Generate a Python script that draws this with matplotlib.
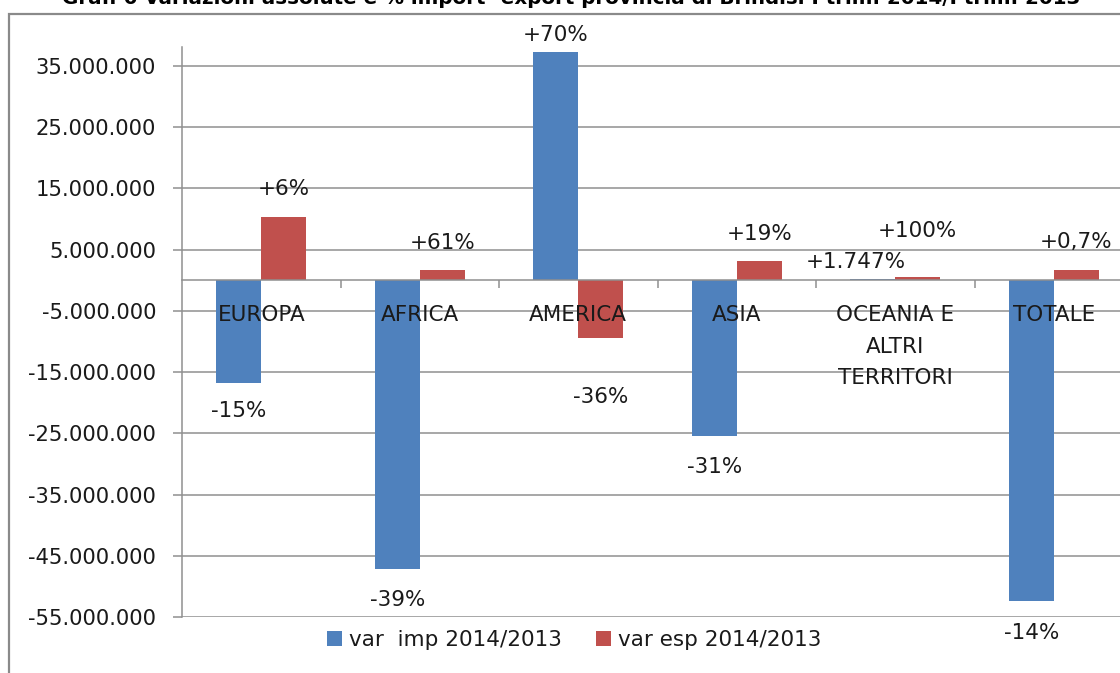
import matplotlib
matplotlib.use("Agg")
import matplotlib.pyplot as plt
from matplotlib.ticker import FuncFormatter, FixedLocator
from matplotlib.patches import Rectangle

# ---- data ----
categories = ["EUROPA", "AFRICA", "AMERICA", "ASIA", "OCEANIA E\nALTRI\nTERRITORI", "TOTALE"]
var_imp = [-16.7e6, -47.1e6, 37.3e6, -25.5e6, 0.25e6, -52.4e6]
var_esp = [10.3e6, 1.6e6, -9.4e6, 3.2e6, 0.6e6, 1.65e6]
imp_labels = ["-15%", "-39%", "+70%", "-31%", "+1.747%", "-14%"]
esp_labels = ["+6%", "+61%", "-36%", "+19%", "+100%", "+0,7%"]
series_names = ["var  imp 2014/2013", "var esp 2014/2013"]
yticks = [-55e6, -45e6, -35e6, -25e6, -15e6, -5e6, 5e6, 15e6, 25e6, 35e6]
title = "Graf. 6 Variazioni assolute e % import- export provincia di Brindisi I trim. 2014/I trim. 2013"

# label offsets (pixels): (dx, dy) relative to bar end
imp_off = [(0, -28), (0, -31), (0, 17), (0, -31), (-17, 17), (0, -32)]
esp_off = [(0, 28), (0, 27), (0, -59), (0, 27), (0, 46), (0, 28)]

W, H = 1120, 673
fig = plt.figure(figsize=(W / 100, H / 100), dpi=100)
plt.rcParams['font.family'] = ['DejaVu Sans']

BLUE = "#4F81BD"
RED = "#C0504D"
GRID = "#8f8f8f"
TXT = "#1a1a1a"
FS = 15.5

left, right = 182 / W, 1133 / W
bottom, top = 1 - 617 / H, 1 - 47 / H
ax = fig.add_axes([left, bottom, right - left, top - bottom])

n = len(categories)
x = list(range(n))
bw = 45 / 158.5
b1 = ax.bar([i - bw / 2 for i in x], var_imp, width=bw, color=BLUE, label=series_names[0], zorder=3)
b2 = ax.bar([i + bw / 2 for i in x], var_esp, width=bw, color=RED, label=series_names[1], zorder=3)

ax.set_xlim(-0.5, n - 0.5)
ax.set_ylim(-55e6, 38.1e6)

# gridlines
ax.yaxis.set_major_locator(FixedLocator(yticks))
ax.yaxis.set_major_formatter(FuncFormatter(lambda v, p: f"{int(round(v)):,}".replace(",", ".")))
ax.grid(axis='y', color=GRID, linewidth=1.1, zorder=0)
ax.set_axisbelow(True)

for s in ['top', 'right']:
    ax.spines[s].set_visible(False)
ax.spines['left'].set_color(GRID)
ax.spines['left'].set_linewidth(1.1)
ax.spines['bottom'].set_position(('data', 0))
ax.spines['bottom'].set_color(GRID)
ax.spines['bottom'].set_linewidth(1.1)
ax.spines['bottom'].set_zorder(4)

ax.tick_params(axis='y', length=6.5, width=1.1, color=GRID, pad=12, labelsize=15.2, labelcolor=TXT)
ax.set_xticks(x)
ax.set_xticklabels([])
ax.tick_params(axis='x', which='major', length=0)
ax.set_xticks([i + 0.5 for i in range(n - 1)], minor=True)
ax.tick_params(axis='x', which='minor', length=5.5, width=1.1, color=GRID, direction='out')

# category labels drawn over the bars (as in the reference)
for i in x:
    ax.annotate(categories[i], (i, 0), xytext=(0, -25 * 0.72), textcoords='offset points',
                ha='center', va='top', fontsize=FS, color=TXT, linespacing=1.72,
                zorder=6, annotation_clip=False)

# data labels
for i in x:
    dx, dy = imp_off[i]
    ax.annotate(imp_labels[i], (i - bw / 2, var_imp[i]), xytext=(dx * 0.72, dy * 0.72),
                textcoords='offset points', ha='center', va='center', fontsize=FS, color=TXT,
                annotation_clip=False)
    dx, dy = esp_off[i]
    ax.annotate(esp_labels[i], (i + bw / 2, var_esp[i]), xytext=(dx * 0.72, dy * 0.72),
                textcoords='offset points', ha='center', va='center', fontsize=FS, color=TXT,
                annotation_clip=False)

# legend
fig.legend(handles=[b1, b2], loc='center', bbox_to_anchor=(574 / W, 1 - 640 / H), ncol=2,
           frameon=False, fontsize=FS, handlelength=0.7, handleheight=0.7,
           handletextpad=0.3, columnspacing=1.6, labelcolor=TXT)

# chart area border
fig.patches.append(Rectangle((9 / W, -0.1), 1.2, 1 - 13.5 / H + 0.1, transform=fig.transFigure,
                             fill=False, edgecolor="#8a8a8a", linewidth=1.6))

# title (cut off at top as in the reference)
fig.text(571 / W, 1 - 4.5 / H, title, ha='center', va='baseline', fontsize=14.3,
         fontweight='bold', color='black')

fig.savefig("out.png", dpi=100)
